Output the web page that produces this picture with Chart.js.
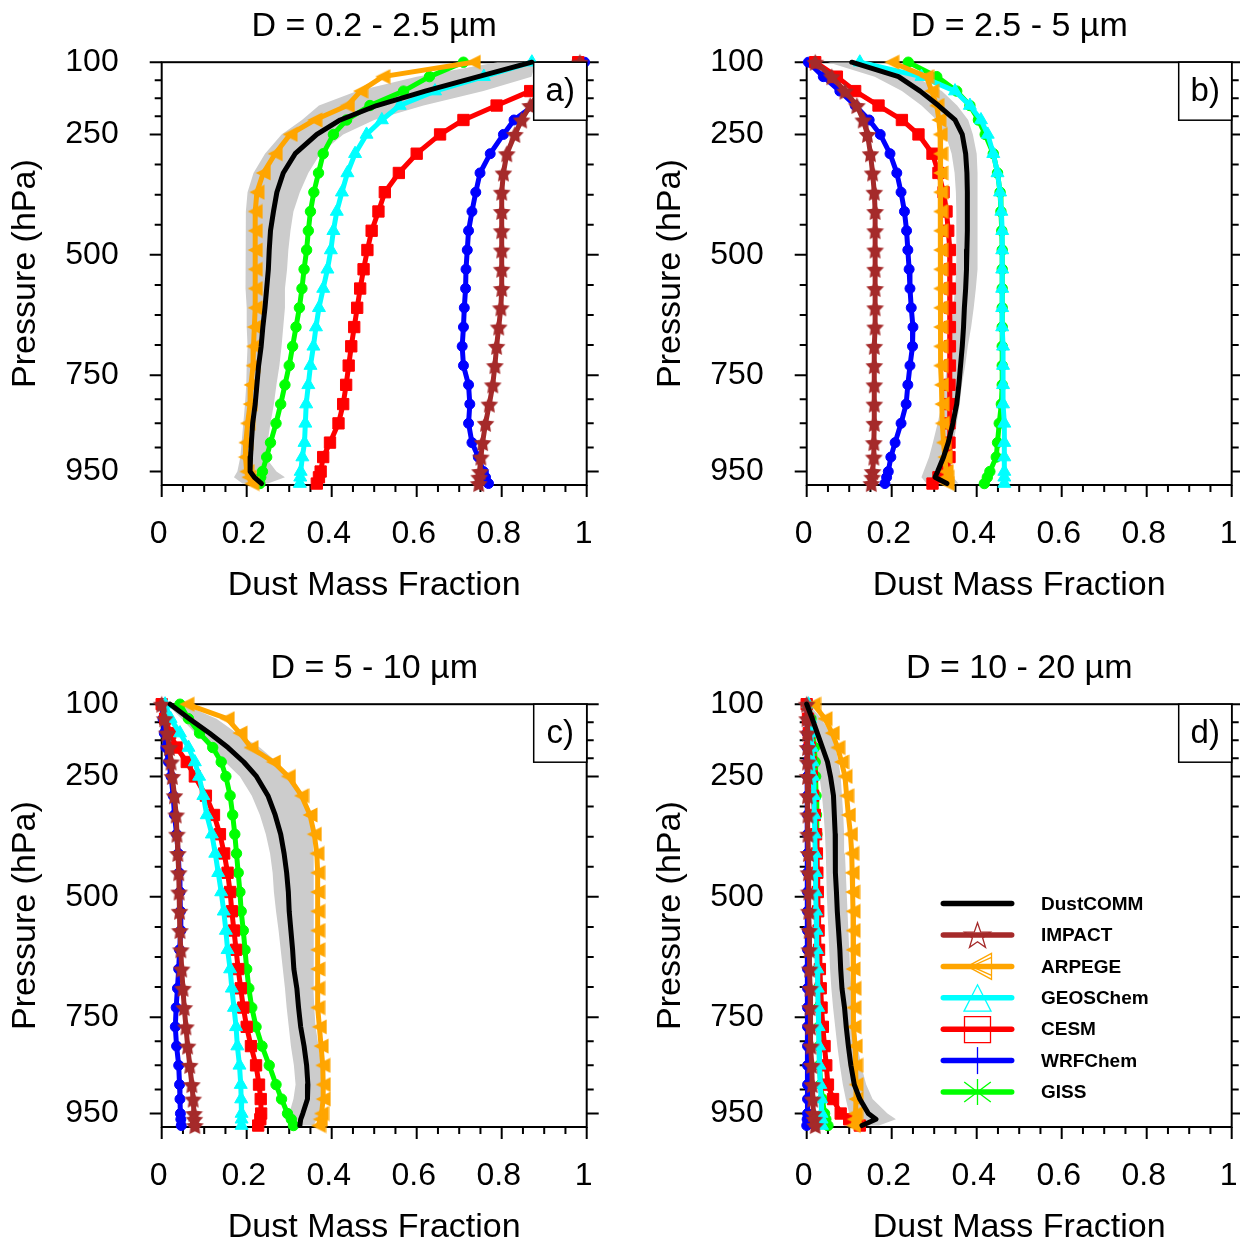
<!DOCTYPE html>
<html>
<head>
<meta charset="utf-8">
<script src="https://cdn.jsdelivr.net/npm/chart.js@4.4.1/dist/chart.umd.min.js"></script>
<style>
  body { margin: 0; background: #fff; width: 1240px; height: 1247px; overflow: hidden; position: relative; }
  canvas { position: absolute; }
</style>
</head>
<body>
<canvas id="pa" width="645" height="642" style="left:0px;top:0px"></canvas>
<canvas id="pb" width="645" height="642" style="left:645px;top:0px"></canvas>
<canvas id="pc" width="645" height="642" style="left:0px;top:642px"></canvas>
<canvas id="pd" width="645" height="642" style="left:645px;top:642px"></canvas>
<script>
// pressure levels (hPa) shared by every profile
const levels = [100,130,160,190,220,250,290,330,370,410,450,490,530,570,610,650,690,730,770,810,850,890,920,950,962,975];

const models = ['DustCOMM','IMPACT','ARPEGE','GEOSChem','CESM','WRFChem','GISS'];
const colors = ['#000000','#a52a2a','#ffa500','#00ffff','#ff0000','#0000ff','#00ff00'];
const bandColor = '#cccccc';

const panelTitles = ['D = 0.2 - 2.5 µm','D = 2.5 - 5 µm','D = 5 - 10 µm','D = 10 - 20 µm'];
const panelTags = ['a)','b)','c)','d)'];
const xMajor = [0,0.2,0.4,0.6,0.8,1];
const yMajor = [100,250,500,750,950];

// ---- panel a : D = 0.2 - 2.5 um
const dustA   = [0.871,0.745,0.62,0.506,0.42,0.365,0.314,0.286,0.271,0.263,0.256,0.253,0.251,0.247,0.243,0.238,0.234,0.228,0.224,0.22,0.214,0.211,0.209,0.208,0.218,0.235];
const dustLoA = [0.79,0.6,0.46,0.37,0.33,0.282,0.243,0.216,0.202,0.198,0.197,0.197,0.197,0.198,0.2,0.2,0.202,0.2,0.199,0.196,0.192,0.188,0.185,0.178,0.17,0.19];
const dustHiA = [0.88,0.87,0.757,0.616,0.5,0.427,0.373,0.345,0.325,0.31,0.303,0.298,0.295,0.29,0.29,0.286,0.282,0.277,0.27,0.264,0.256,0.249,0.244,0.27,0.29,0.25];
const impactA = [0.984,0.94,0.89,0.867,0.847,0.831,0.812,0.804,0.8,0.8,0.8,0.8,0.8,0.8,0.798,0.793,0.788,0.784,0.779,0.771,0.762,0.755,0.751,0.749,0.747,0.746];
const arpegeA = [0.733,0.52,0.468,0.437,0.36,0.302,0.267,0.239,0.224,0.22,0.22,0.22,0.22,0.22,0.22,0.218,0.216,0.215,0.21,0.208,0.202,0.198,0.197,0.2,0.205,0.212];
const geosA   = [0.871,0.758,0.643,0.56,0.518,0.482,0.455,0.437,0.424,0.412,0.404,0.398,0.39,0.38,0.37,0.363,0.357,0.35,0.345,0.34,0.338,0.336,0.331,0.327,0.326,0.325];
const cesmA   = [0.98,0.93,0.867,0.788,0.71,0.655,0.6,0.558,0.525,0.51,0.494,0.484,0.475,0.467,0.46,0.453,0.446,0.44,0.434,0.427,0.416,0.396,0.38,0.374,0.37,0.365];
const wrfA    = [0.995,0.94,0.89,0.875,0.829,0.804,0.773,0.749,0.739,0.73,0.722,0.719,0.716,0.715,0.712,0.71,0.707,0.71,0.722,0.725,0.722,0.73,0.745,0.757,0.762,0.769];
const gissA   = [0.71,0.63,0.569,0.49,0.435,0.404,0.38,0.369,0.358,0.35,0.345,0.341,0.335,0.33,0.324,0.316,0.308,0.3,0.29,0.28,0.269,0.256,0.247,0.237,0.233,0.231];

// ---- panel b : D = 2.5 - 5 um
const dustB   = [0.106,0.216,0.267,0.31,0.349,0.366,0.374,0.377,0.378,0.378,0.378,0.377,0.376,0.374,0.371,0.369,0.366,0.362,0.358,0.353,0.344,0.333,0.322,0.308,0.302,0.33];
const dustLoB = [0.05,0.16,0.224,0.27,0.306,0.327,0.341,0.348,0.351,0.352,0.352,0.352,0.352,0.349,0.345,0.34,0.335,0.33,0.325,0.318,0.308,0.297,0.288,0.275,0.27,0.282];
const dustHiB = [0.15,0.255,0.318,0.354,0.38,0.391,0.4,0.402,0.402,0.402,0.402,0.402,0.402,0.398,0.393,0.387,0.379,0.373,0.365,0.36,0.353,0.346,0.341,0.341,0.345,0.357];
const impactB = [0.02,0.059,0.09,0.118,0.133,0.143,0.15,0.155,0.159,0.161,0.161,0.161,0.161,0.161,0.161,0.161,0.159,0.159,0.159,0.159,0.159,0.158,0.158,0.155,0.154,0.152];
const arpegeB = [0.2,0.282,0.294,0.306,0.311,0.314,0.315,0.315,0.315,0.315,0.315,0.315,0.315,0.315,0.315,0.315,0.315,0.315,0.317,0.318,0.319,0.322,0.325,0.328,0.329,0.33];
const geosB   = [0.125,0.27,0.349,0.384,0.41,0.426,0.439,0.449,0.455,0.458,0.46,0.46,0.46,0.46,0.46,0.46,0.462,0.462,0.462,0.462,0.465,0.465,0.465,0.465,0.465,0.465];
const cesmB   = [0.02,0.071,0.114,0.169,0.224,0.263,0.296,0.31,0.322,0.329,0.333,0.337,0.337,0.337,0.337,0.337,0.337,0.337,0.336,0.336,0.336,0.336,0.336,0.329,0.31,0.296];
const wrfB    = [0.004,0.039,0.078,0.114,0.147,0.173,0.196,0.212,0.222,0.23,0.235,0.238,0.241,0.243,0.246,0.25,0.249,0.243,0.238,0.234,0.222,0.208,0.198,0.192,0.188,0.184];
const gissB   = [0.239,0.306,0.353,0.384,0.404,0.42,0.439,0.449,0.455,0.457,0.459,0.46,0.46,0.46,0.46,0.46,0.46,0.46,0.46,0.458,0.453,0.449,0.446,0.431,0.425,0.418];

// ---- panel c : D = 5 - 10 um
const dustC   = [0.02,0.065,0.112,0.156,0.193,0.223,0.25,0.267,0.28,0.288,0.294,0.298,0.3,0.304,0.308,0.311,0.318,0.322,0.327,0.335,0.341,0.344,0.343,0.332,0.327,0.325];
const dustLoC = [0.012,0.047,0.078,0.114,0.149,0.184,0.212,0.231,0.245,0.255,0.261,0.264,0.269,0.275,0.28,0.285,0.29,0.294,0.299,0.304,0.311,0.315,0.31,0.3,0.298,0.302];
const dustHiC = [0.051,0.129,0.176,0.231,0.271,0.302,0.329,0.345,0.355,0.357,0.358,0.358,0.358,0.358,0.358,0.357,0.357,0.359,0.362,0.369,0.376,0.384,0.384,0.373,0.365,0.357];
const impactC = [0,0.007,0.012,0.018,0.022,0.025,0.03,0.034,0.036,0.038,0.04,0.041,0.042,0.043,0.045,0.047,0.05,0.053,0.057,0.061,0.066,0.071,0.074,0.076,0.077,0.078];
const arpegeC = [0.059,0.154,0.184,0.21,0.263,0.298,0.329,0.349,0.359,0.365,0.367,0.367,0.367,0.367,0.367,0.367,0.367,0.367,0.371,0.375,0.379,0.38,0.38,0.376,0.373,0.369];
const geosC   = [0.008,0.021,0.043,0.063,0.078,0.088,0.098,0.106,0.118,0.126,0.133,0.14,0.146,0.151,0.155,0.161,0.165,0.17,0.175,0.178,0.183,0.186,0.187,0.188,0.188,0.188];
const cesmC   = [0,0.008,0.02,0.035,0.059,0.078,0.104,0.123,0.137,0.147,0.155,0.161,0.165,0.17,0.175,0.18,0.186,0.192,0.2,0.21,0.222,0.229,0.233,0.234,0.232,0.227];
const wrfC    = [0,0.003,0.006,0.01,0.016,0.022,0.027,0.03,0.035,0.039,0.041,0.043,0.044,0.045,0.042,0.04,0.037,0.034,0.032,0.035,0.04,0.042,0.043,0.044,0.045,0.046];
const gissC   = [0.043,0.063,0.089,0.12,0.14,0.151,0.161,0.167,0.172,0.176,0.18,0.184,0.187,0.192,0.196,0.2,0.205,0.212,0.222,0.236,0.253,0.269,0.282,0.296,0.305,0.31];

// ---- panel d : D = 10 - 20 um
const dustD   = [0,0.013,0.025,0.037,0.049,0.056,0.063,0.065,0.067,0.067,0.068,0.07,0.072,0.075,0.078,0.08,0.083,0.089,0.093,0.098,0.104,0.112,0.125,0.145,0.163,0.13];
const dustLoD = [0,0.006,0.012,0.018,0.024,0.03,0.036,0.04,0.043,0.045,0.046,0.047,0.049,0.051,0.053,0.055,0.058,0.062,0.067,0.072,0.078,0.085,0.092,0.1,0.105,0.1];
const dustHiD = [0.005,0.035,0.055,0.068,0.075,0.08,0.083,0.086,0.088,0.09,0.092,0.094,0.096,0.098,0.1,0.102,0.105,0.109,0.114,0.12,0.128,0.14,0.155,0.19,0.21,0.17];
const impactD = [0,0.001,0.002,0.002,0.002,0.002,0.002,0.003,0.003,0.004,0.004,0.005,0.005,0.006,0.006,0.007,0.008,0.008,0.009,0.01,0.012,0.013,0.014,0.016,0.018,0.02];
const arpegeD = [0.016,0.043,0.06,0.073,0.082,0.09,0.094,0.098,0.103,0.106,0.107,0.108,0.109,0.109,0.109,0.109,0.111,0.111,0.111,0.114,0.115,0.116,0.116,0.115,0.112,0.11];
const geosD   = [0.004,0.008,0.01,0.012,0.014,0.015,0.017,0.018,0.019,0.02,0.021,0.021,0.022,0.023,0.024,0.025,0.026,0.027,0.028,0.029,0.03,0.032,0.034,0.035,0.035,0.036];
const cesmD   = [0,0.003,0.005,0.007,0.009,0.012,0.015,0.019,0.022,0.024,0.025,0.026,0.027,0.028,0.029,0.031,0.033,0.035,0.038,0.042,0.046,0.05,0.062,0.08,0.1,0.125];
const wrfD    = [0,0.001,0.001,0.001,0.002,0.002,0.002,0.002,0.002,0.002,0.002,0.002,0.002,0.002,0.002,0.002,0.002,0.002,0.002,0.002,0.002,0.002,0.002,0.002,0.001,0];
const gissD   = [0.004,0.01,0.014,0.018,0.02,0.021,0.022,0.023,0.024,0.024,0.024,0.025,0.025,0.025,0.026,0.027,0.027,0.028,0.029,0.03,0.03,0.033,0.037,0.042,0.045,0.05];

const FONT = "'Liberation Sans', Arial, Helvetica, sans-serif";
Chart.defaults.font.family = FONT;
Chart.defaults.color = '#000';

// filled marker images for the stars and left-pointing triangles
function markerImg(size, color, draw) {
  const c = document.createElement('canvas');
  c.width = c.height = size;
  const g = c.getContext('2d');
  g.fillStyle = color;
  g.beginPath();
  draw(g, size / 2);
  g.closePath();
  g.fill();
  return c;
}
const starImg = markerImg(19, colors[1], (g, r) => {
  for (let i = 0; i < 10; i++) {
    const rad = i % 2 ? r * 0.5 : r * 0.98;
    const a = -Math.PI / 2 + i * Math.PI / 5;
    g.lineTo(r + rad * Math.cos(a), r + 1 + rad * Math.sin(a));
  }
});
const leftTriImg = markerImg(16, colors[2], (g, r) => {
  g.moveTo(0.5, r); g.lineTo(2 * r - 0.5, 0.5); g.lineTo(2 * r - 0.5, 2 * r - 0.5);
});

const markers = [
  {pointRadius: 0},
  {pointStyle: starImg, pointRadius: 8},
  {pointStyle: leftTriImg, pointRadius: 8},
  {pointStyle: 'triangle', pointRadius: 7.5, pointBorderWidth: 1},
  {pointStyle: 'rect', pointRadius: 8, pointBorderWidth: 1},
  {pointStyle: 'circle', pointRadius: 5, pointBorderWidth: 1},
  {pointStyle: 'circle', pointRadius: 5.2, pointBorderWidth: 1}
];

function profile(vals) { return vals.map((v, i) => ({x: v, y: levels[i]})); }

function minorVals(major, n) {
  const out = [];
  for (let i = 0; i < major.length - 1; i++)
    for (let k = 1; k < n; k++) out.push(major[i] + (major[i + 1] - major[i]) * k / n);
  return out;
}
const xMinor = minorVals(xMajor, 4);
const yMinor = minorVals(yMajor, 4);

function drawLegendMarker(ctx, i, cx, cy) {
  ctx.beginPath();
  if (i === 1) {
    const R = 13.6, r = 5.4;
    for (let k = 0; k < 10; k++) {
      const rad = k % 2 ? r : R;
      const a = -Math.PI / 2 + k * Math.PI / 5;
      ctx.lineTo(cx + rad * Math.cos(a), cy + 1.3 + rad * Math.sin(a));
    }
    ctx.closePath();
  } else if (i === 2) {
    ctx.moveTo(cx - 10, cy); ctx.lineTo(cx + 14, cy - 13); ctx.lineTo(cx + 14, cy + 13); ctx.closePath();
    ctx.moveTo(cx + 14, cy - 9); ctx.lineTo(cx - 6, cy); ctx.lineTo(cx + 14, cy + 9);
  } else if (i === 3) {
    ctx.moveTo(cx, cy - 13); ctx.lineTo(cx + 13.5, cy + 13.3); ctx.lineTo(cx - 13.5, cy + 13.3); ctx.closePath();
  } else if (i === 4) {
    ctx.rect(cx - 13, cy - 12.5, 26, 26);
  } else if (i === 5) {
    ctx.moveTo(cx, cy - 13.5); ctx.lineTo(cx, cy + 13.5);
  } else if (i === 6) {
    ctx.moveTo(cx, cy - 13); ctx.lineTo(cx, cy + 13);
    ctx.moveTo(cx - 13.3, cy - 10); ctx.lineTo(cx + 13.3, cy + 10);
    ctx.moveTo(cx - 13.3, cy + 10); ctx.lineTo(cx + 13.3, cy - 10);
    ctx.moveTo(cx - 13, cy); ctx.lineTo(cx + 13, cy);
  }
  ctx.stroke();
}

const overlay = {
  id: 'overlay',
  beforeDatasetsDraw(chart) {
    const {ctx, chartArea: a, scales: {x, y}} = chart;
    ctx.save();
    ctx.strokeStyle = '#000';
    ctx.lineWidth = 2;
    ctx.strokeRect(a.left, a.top, a.right - a.left, a.bottom - a.top);
    ctx.beginPath();
    xMajor.concat(xMinor).forEach((v, i) => {
      const px = x.getPixelForValue(v), len = i < xMajor.length ? 12 : 7;
      ctx.moveTo(px, a.bottom); ctx.lineTo(px, a.bottom + len);
    });
    yMajor.concat(yMinor).forEach((v, i) => {
      const py = y.getPixelForValue(v), len = i < yMajor.length ? 12 : 7;
      ctx.moveTo(a.left, py); ctx.lineTo(a.left - len, py);
      ctx.moveTo(a.right, py); ctx.lineTo(a.right + len, py);
    });
    ctx.stroke();
    ctx.restore();
  },
  afterDatasetsDraw(chart, args, opts) {
    const {ctx, chartArea: a} = chart;
    ctx.save();
    // panel tag box
    ctx.fillStyle = '#fff';
    ctx.fillRect(a.right - 53, a.top, 53, 58);
    ctx.strokeStyle = '#000';
    ctx.lineWidth = 1.5;
    ctx.strokeRect(a.right - 53, a.top, 53, 58);
    ctx.fillStyle = '#000';
    ctx.font = '33px ' + FONT;
    ctx.textAlign = 'center';
    ctx.textBaseline = 'middle';
    ctx.fillText(opts.tag, a.right - 26.5, a.top + 30);
    // panel title
    ctx.font = '34px ' + FONT;
    ctx.fillText(opts.title, (a.left + a.right) / 2, 27);
    // legend
    if (opts.legend) {
      const x0 = a.left + 136.6, x1 = a.left + 205, cx = a.left + 170.8, tx = a.left + 234.3;
      models.forEach((name, i) => {
        const yy = a.top + 199.4 + i * 31.4;
        ctx.strokeStyle = colors[i];
        ctx.lineCap = 'round';
        ctx.lineWidth = 5.5;
        ctx.beginPath(); ctx.moveTo(x0, yy); ctx.lineTo(x1, yy); ctx.stroke();
        ctx.lineCap = 'butt';
        ctx.lineWidth = 1.3;
        drawLegendMarker(ctx, i, cx, yy);
        ctx.fillStyle = '#000';
        ctx.font = 'bold 19px ' + FONT;
        ctx.textAlign = 'left';
        ctx.fillText(name, tx, yy + 1);
      });
    }
    ctx.restore();
  }
};

function makePanel(id, idx, series, lo, hi, legend) {
  const datasets = series.map((vals, i) => Object.assign({
    label: models[i],
    data: profile(vals),
    showLine: true,
    borderColor: colors[i],
    backgroundColor: colors[i],
    pointBorderColor: colors[i],
    pointBackgroundColor: colors[i],
    borderWidth: 5,
    borderJoinStyle: 'round',
    borderCapStyle: 'round',
    clip: false
  }, markers[i]));
  datasets.push({
    label: 'range',
    data: profile(lo).concat(profile(hi).reverse()),
    showLine: true,
    borderWidth: 0,
    pointRadius: 0,
    backgroundColor: bandColor,
    fill: 'shape'
  });
  new Chart(document.getElementById(id), {
    type: 'scatter',
    data: {datasets},
    options: {
      responsive: false,
      animation: false,
      events: [],
      layout: {padding: {left: 0, top: 60, right: 58.3, bottom: 0}},
      plugins: {
        legend: {display: false},
        tooltip: {enabled: false},
        overlay: {title: panelTitles[idx], tag: panelTags[idx], legend: legend}
      },
      scales: {
        x: {
          type: 'linear', position: 'bottom', min: 0, max: 1,
          afterFit(s) { s.height = 157; },
          afterBuildTicks(s) { s.ticks = xMajor.map(v => ({value: v})); },
          ticks: {font: {size: 32}, color: '#000', padding: 30, labelOffset: -3, autoSkip: false, maxRotation: 0,
                  callback: v => String(Math.round(v * 10) / 10)},
          grid: {display: false, drawTicks: false},
          border: {display: false},
          title: {display: true, text: 'Dust Mass Fraction', font: {size: 34}, color: '#000', padding: {top: 0, bottom: 35.5}}
        },
        y: {
          type: 'linear', position: 'left', reverse: true, min: 100, max: 978,
          afterFit(s) { s.width = 161.7; },
          afterBuildTicks(s) { s.ticks = yMajor.map(v => ({value: v})); },
          ticks: {font: {size: 32}, color: '#000', padding: 43, autoSkip: false, callback: v => String(v)},
          grid: {display: false, drawTicks: false},
          border: {display: false},
          title: {display: true, text: 'Pressure (hPa)', font: {size: 34}, color: '#000', padding: {top: 5.6, bottom: 0}}
        }
      }
    },
    plugins: [overlay]
  });
}

makePanel('pa', 0, [dustA, impactA, arpegeA, geosA, cesmA, wrfA, gissA], dustLoA, dustHiA, false);
makePanel('pb', 1, [dustB, impactB, arpegeB, geosB, cesmB, wrfB, gissB], dustLoB, dustHiB, false);
makePanel('pc', 2, [dustC, impactC, arpegeC, geosC, cesmC, wrfC, gissC], dustLoC, dustHiC, false);
makePanel('pd', 3, [dustD, impactD, arpegeD, geosD, cesmD, wrfD, gissD], dustLoD, dustHiD, true);
</script>
</body>
</html>
